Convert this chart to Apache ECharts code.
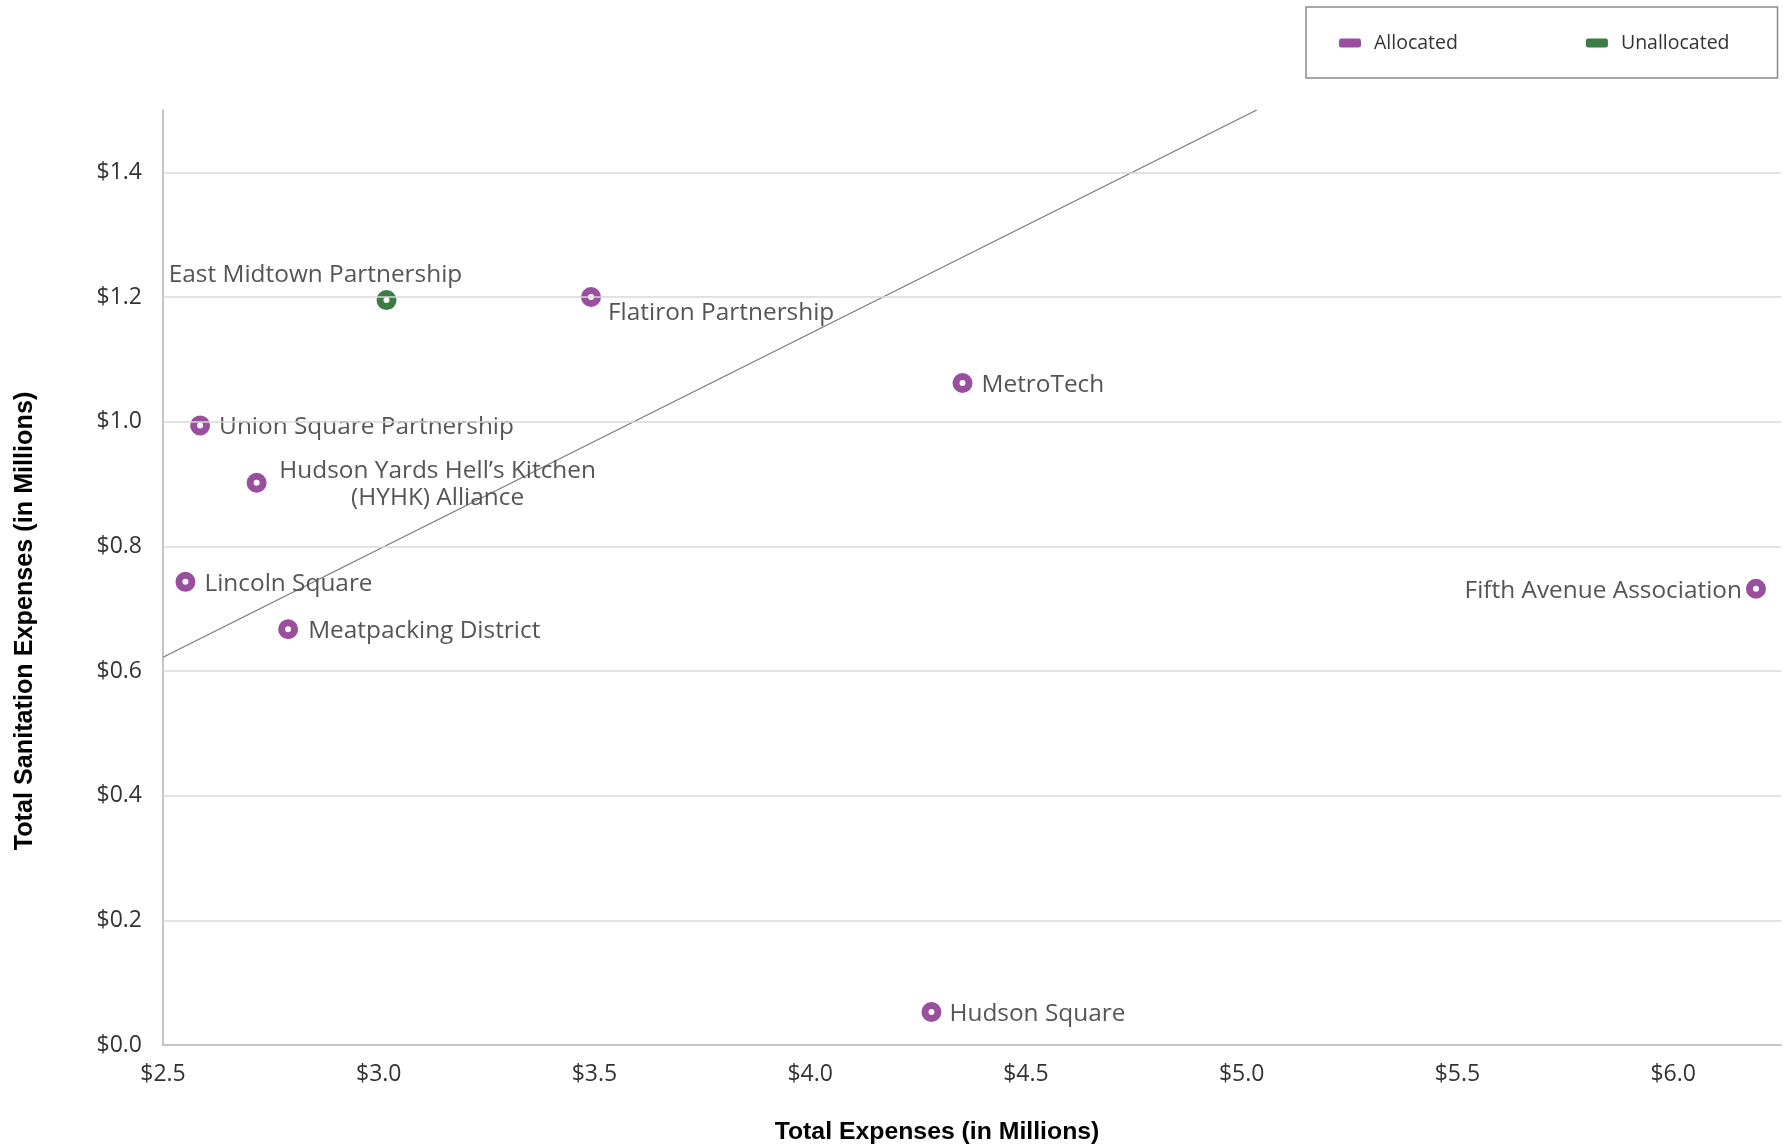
<!DOCTYPE html>
<html>
<head>
<meta charset="utf-8">
<script src="https://cdn.jsdelivr.net/npm/echarts@6/dist/echarts.min.js"></script>
<style>
  html, body { margin: 0; padding: 0; background: #fff; }
  #chart { width: 1788px; height: 1148px; }
</style>
</head>
<body>
<div id="chart"></div>
<script>
// Business improvement districts: total expenses vs. sanitation expenses ($ millions)
const districts = [
  'East Midtown Partnership',
  'Flatiron Partnership',
  'MetroTech',
  'Union Square Partnership',
  'Hudson Yards Hell’s Kitchen\n(HYHK) Alliance',
  'Lincoln Square',
  'Meatpacking District',
  'Fifth Avenue Association',
  'Hudson Square'
];
const totalExpenses      = [3.018, 3.492, 4.353, 2.586, 2.717, 2.552, 2.790, 6.192, 4.281];
const sanitationExpenses = [1.195, 1.200, 1.062, 0.994, 0.902, 0.743, 0.667, 0.732, 0.053];
const allocation         = ['Unallocated', 'Allocated', 'Allocated', 'Allocated', 'Allocated',
                            'Allocated', 'Allocated', 'Allocated', 'Allocated'];

// Reference line drawn across the plot
const trendX = [2.5, 5.035];
const trendY = [0.622, 1.5];

// Horizontal gridlines (the axis top at 1.5 carries no line)
const yGridValues = [0.2, 0.4, 0.6, 0.8, 1.0, 1.2, 1.4];

const COLORS = { Allocated: '#994F9E', Unallocated: '#3B7D45' };
const FONT = '"Open Sans", Lato, sans-serif';
const TITLE_FONT = '"Liberation Sans", Arial, sans-serif';

// Label placement per district: [dx, dy, align]
const labelPlacement = {
  'East Midtown Partnership': [-71, -25, 'center'],
  'Flatiron Partnership': [17, 16, 'left'],
  'MetroTech': [19, 2, 'left'],
  'Union Square Partnership': [19, 2, 'left'],
  'Hudson Yards Hell’s Kitchen\n(HYHK) Alliance': [181, 2, 'center'],
  'Lincoln Square': [19, 2, 'left'],
  'Meatpacking District': [20, 2, 'left'],
  'Fifth Avenue Association': [-14, 2, 'right'],
  'Hudson Square': [18, 2, 'left']
};

function pointsFor(group) {
  const out = [];
  districts.forEach((name, i) => {
    if (allocation[i] !== group) return;
    const p = labelPlacement[name];
    out.push({
      name: name,
      value: [totalExpenses[i], sanitationExpenses[i]],
      label: {
        show: true,
        formatter: name,
        position: 'inside',
        offset: [p[0], p[1]],
        align: p[2],
        verticalAlign: 'middle',
        color: '#555555',
        fontSize: 24.4,
        lineHeight: 27,
        fontFamily: FONT
      }
    });
  });
  return out;
}

function scatterSeries(group) {
  return {
    name: group,
    type: 'scatter',
    z: 3,
    symbol: 'circle',
    symbolSize: 13,
    itemStyle: { color: '#ffffff', borderColor: COLORS[group], borderWidth: 7, opacity: 1 },
    emphasis: { disabled: true },
    data: pointsFor(group)
  };
}

const chart = echarts.init(document.getElementById('chart'), null, { renderer: 'canvas' });

chart.setOption({
  backgroundColor: '#ffffff',
  animation: false,
  grid: { left: 163, right: 7, top: 110, bottom: 103, containLabel: false },
  legend: {
    left: 1306,
    top: 7,
    orient: 'horizontal',
    padding: [26, 48, 25, 33],
    itemGap: 128,
    itemWidth: 22,
    itemHeight: 9,
    icon: 'roundRect',
    borderColor: '#8a8a8a',
    borderWidth: 1.5,
    borderRadius: 0,
    selectedMode: false,
    textStyle: { color: '#333333', fontSize: 19.5, fontFamily: FONT, padding: [0, 0, 0, 8], lineHeight: 20 },
    data: [
      { name: 'Allocated', itemStyle: { color: COLORS.Allocated, borderWidth: 0 } },
      { name: 'Unallocated', itemStyle: { color: COLORS.Unallocated, borderWidth: 0 } }
    ]
  },
  xAxis: {
    type: 'value',
    min: 2.5,
    max: 6.25,
    interval: 0.5,
    axisLine: { show: true, onZero: false, lineStyle: { color: '#c4c4c4', width: 2 } },
    axisTick: { show: false },
    splitLine: { show: false },
    axisLabel: {
      color: '#333333',
      fontSize: 23,
      fontFamily: FONT,
      margin: 18,
      showMaxLabel: false,
      formatter: v => '$' + v.toFixed(1)
    }
  },
  yAxis: {
    type: 'value',
    min: 0,
    max: 1.5,
    interval: 0.2,
    axisLine: { show: true, onZero: false, lineStyle: { color: '#c4c4c4', width: 2 } },
    axisTick: { show: false },
    splitLine: { show: false },
    axisLabel: {
      color: '#333333',
      fontSize: 23,
      fontFamily: FONT,
      margin: 21,
      showMaxLabel: false,
      formatter: v => '$' + v.toFixed(1)
    }
  },
  graphic: [
    {
      type: 'text',
      x: 937, y: 1132,
      style: {
        text: 'Total Expenses (in Millions)',
        fill: '#000000',
        font: 'bold 24.8px ' + TITLE_FONT,
        align: 'center',
        verticalAlign: 'middle'
      }
    },
    {
      type: 'text',
      x: 25, y: 621,
      rotation: Math.PI / 2,
      style: {
        text: 'Total Sanitation Expenses (in Millions)',
        fill: '#000000',
        font: 'bold 25.2px ' + TITLE_FONT,
        align: 'center',
        verticalAlign: 'middle'
      }
    }
  ],
  series: [
    {
      name: 'trend',
      type: 'line',
      z: 1,
      symbol: 'none',
      silent: true,
      lineStyle: { color: '#7a7a7a', width: 1.3 },
      data: trendX.map((x, i) => [x, trendY[i]]),
      markLine: {
        silent: true,
        symbol: 'none',
        label: { show: false },
        lineStyle: { color: '#d9d9d9', width: 1.5, type: 'solid' },
        emphasis: { disabled: true },
        data: yGridValues.map(v => ({ yAxis: v }))
      }
    },
    scatterSeries('Allocated'),
    scatterSeries('Unallocated')
  ]
});
</script>
</body>
</html>
